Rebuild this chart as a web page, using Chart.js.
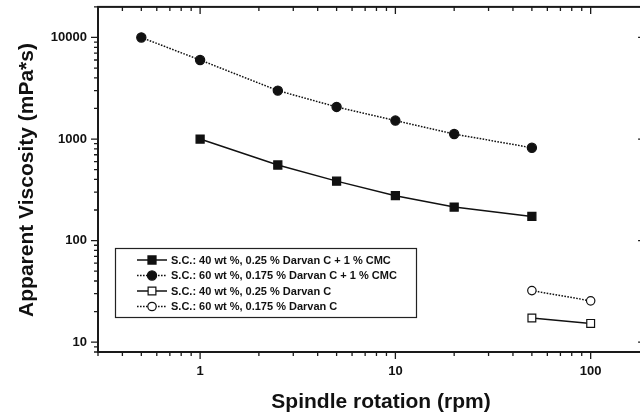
<!DOCTYPE html>
<html><head><meta charset="utf-8">
<script src="https://cdn.jsdelivr.net/npm/chart.js@4/dist/chart.umd.min.js"></script>
<style>html,body{margin:0;padding:0;background:#fff;overflow:hidden;width:640px;height:417px}canvas{display:block}</style>
</head><body><canvas id="c" width="652" height="417"></canvas>
<script>
// ---- data ----
const rpmA = [1, 2.5, 5, 10, 20, 50];
const viscA = [1000, 555, 385, 277, 214, 173];
const rpmB = [0.5, 1, 2.5, 5, 10, 20, 50];
const viscB = [10000, 6000, 3000, 2070, 1520, 1120, 820];
const rpmC = [50, 100];
const viscC = [17.3, 15.3];
const rpmD = [50, 100];
const viscD = [32.2, 25.5];
const seriesLabels = [
  'S.C.: 40 wt %, 0.25 % Darvan C + 1 % CMC',
  'S.C.: 60 wt %, 0.175 % Darvan C + 1 % CMC',
  'S.C.: 40 wt %, 0.25 % Darvan C',
  'S.C.: 60 wt %, 0.175 % Darvan C'
];
const xTickValues = [1, 10, 100];
const yTickValues = [10, 100, 1000, 10000];
const xTitle = 'Spindle rotation (rpm)';
const yTitle = 'Apparent Viscosity (mPa*s)';

const FONT = '"Liberation Sans", Arial, Helvetica, sans-serif';
Chart.defaults.font.family = FONT;
const INK = '#111';

function pts(xs, ys){ return xs.map((v,i)=>({x:v, y:ys[i]})); }

const styles = [
  {shape:'rect', fill:INK, dash:[], r:5.7},
  {shape:'circle', fill:INK, dash:[1.6,1.4], r:4.6},
  {shape:'rect', fill:'#fff', dash:[], r:5.5},
  {shape:'circle', fill:'#fff', dash:[1.6,1.4], r:4.2}
];
const dataSets = [pts(rpmA,viscA), pts(rpmB,viscB), pts(rpmC,viscC), pts(rpmD,viscD)];

const datasets = dataSets.map((d,i)=>({
  label: seriesLabels[i],
  data: d,
  borderColor: INK,
  borderWidth: 1.5,
  borderDash: styles[i].dash,
  pointStyle: styles[i].shape,
  pointRadius: styles[i].r,
  pointHoverRadius: styles[i].r,
  pointBackgroundColor: styles[i].fill,
  pointBorderColor: INK,
  pointBorderWidth: 1.2,
  tension: 0,
  fill: false
}));

function drawMarker(ctx, st, x, y){
  ctx.save();
  ctx.setLineDash([]);
  ctx.fillStyle = st.fill; ctx.strokeStyle = INK; ctx.lineWidth = 1.2;
  ctx.beginPath();
  if (st.shape === 'rect') {
    const s = Math.SQRT1_2 * st.r;
    ctx.rect(x - s, y - s, 2*s, 2*s);
  } else {
    ctx.arc(x, y, st.r, 0, Math.PI*2);
  }
  ctx.fill(); ctx.stroke();
  ctx.restore();
}

const framePlugin = {
  id: 'frame',
  afterDatasetsDraw(chart){
    const {ctx, chartArea:a, scales:{x, y}} = chart;
    ctx.save();
    ctx.strokeStyle = '#1a1a1a';
    ctx.lineWidth = 1.3;
    ctx.setLineDash([]);
    const decades = [0.01, 0.1, 1, 10, 100, 1000, 10000];
    decades.forEach(d=>{
      for (let m=1; m<=9; m++){
        const v = m*d;
        const len = m===1 ? 7 : 4;
        if (v >= x.min - 1e-9 && v <= x.max + 1e-9){
          const px = x.getPixelForValue(v);
          ctx.beginPath();
          ctx.moveTo(px, a.bottom); ctx.lineTo(px, a.bottom + len);
          ctx.moveTo(px, a.top); ctx.lineTo(px, a.top + len);
          ctx.stroke();
        }
        if (v >= y.min - 1e-9 && v <= y.max + 1e-9){
          const py = y.getPixelForValue(v);
          ctx.beginPath();
          ctx.moveTo(a.left - len, py); ctx.lineTo(a.left, py);
          ctx.moveTo(a.right - len, py); ctx.lineTo(a.right, py);
          ctx.stroke();
        }
      }
    });
    ctx.lineWidth = 2;
    ctx.strokeRect(a.left, a.top, a.right - a.left, a.bottom - a.top);

    // axis titles
    ctx.fillStyle = INK;
    ctx.font = 'bold 21px ' + FONT;
    ctx.textAlign = 'center';
    ctx.textBaseline = 'alphabetic';
    ctx.fillText(xTitle, 381, 408);
    ctx.save();
    ctx.translate(33, 180);
    ctx.rotate(-Math.PI/2);
    ctx.fillText(yTitle, 0, 0);
    ctx.restore();

    // legend
    const bx = 115.5, by = 248.5, bw = 301, bh = 69;
    ctx.fillStyle = '#fff';
    ctx.fillRect(bx, by, bw, bh);
    ctx.strokeStyle = '#222';
    ctx.lineWidth = 1.2;
    ctx.strokeRect(bx, by, bw, bh);
    ctx.font = 'bold 11px ' + FONT;
    ctx.textAlign = 'left';
    ctx.textBaseline = 'middle';
    const rows = [260, 275.5, 291, 306.5];
    seriesLabels.forEach((lab, i)=>{
      const ry = rows[i];
      ctx.strokeStyle = INK;
      ctx.lineWidth = 1.5;
      ctx.setLineDash(styles[i].dash);
      ctx.beginPath(); ctx.moveTo(137, ry); ctx.lineTo(167, ry); ctx.stroke();
      ctx.setLineDash([]);
      drawMarker(ctx, styles[i], 152, ry);
      ctx.fillStyle = INK;
      ctx.fillText(lab, 171, ry + 0.5);
    });
    ctx.restore();
  }
};

function noPad(s){ s.paddingLeft = 0; s.paddingRight = 0; s.paddingTop = 0; s.paddingBottom = 0; }

new Chart(document.getElementById('c'), {
  type: 'line',
  data: { datasets },
  options: {
    responsive: false,
    animation: false,
    events: [],
    layout: { padding: { left: 0, top: 6, right: 2, bottom: 0 } },
    plugins: { legend: { display: false }, tooltip: { enabled: false }, title: { display: false } },
    scales: {
      x: {
        type: 'logarithmic',
        position: 'bottom',
        min: 0.3, max: 190,
        grid: { display: false, drawTicks: false },
        border: { display: false },
        afterBuildTicks: s => { s.ticks = xTickValues.map(v=>({value:v})); },
        afterFit: s => { s.height = 65; noPad(s); },
        ticks: {
          autoSkip: false, maxRotation: 0, padding: 12,
          color: INK,
          font: { size: 13, weight: 'bold' },
          callback: v => String(v)
        }
      },
      y: {
        type: 'logarithmic',
        position: 'left',
        min: 8, max: 20000,
        grid: { display: false, drawTicks: false },
        border: { display: false },
        afterBuildTicks: s => { s.ticks = yTickValues.map(v=>({value:v})); },
        afterFit: s => { s.width = 98; noPad(s); },
        ticks: {
          autoSkip: false, padding: 11,
          color: INK,
          font: { size: 13, weight: 'bold' },
          callback: v => String(v)
        }
      }
    }
  },
  plugins: [framePlugin]
});
</script>
</body></html>
